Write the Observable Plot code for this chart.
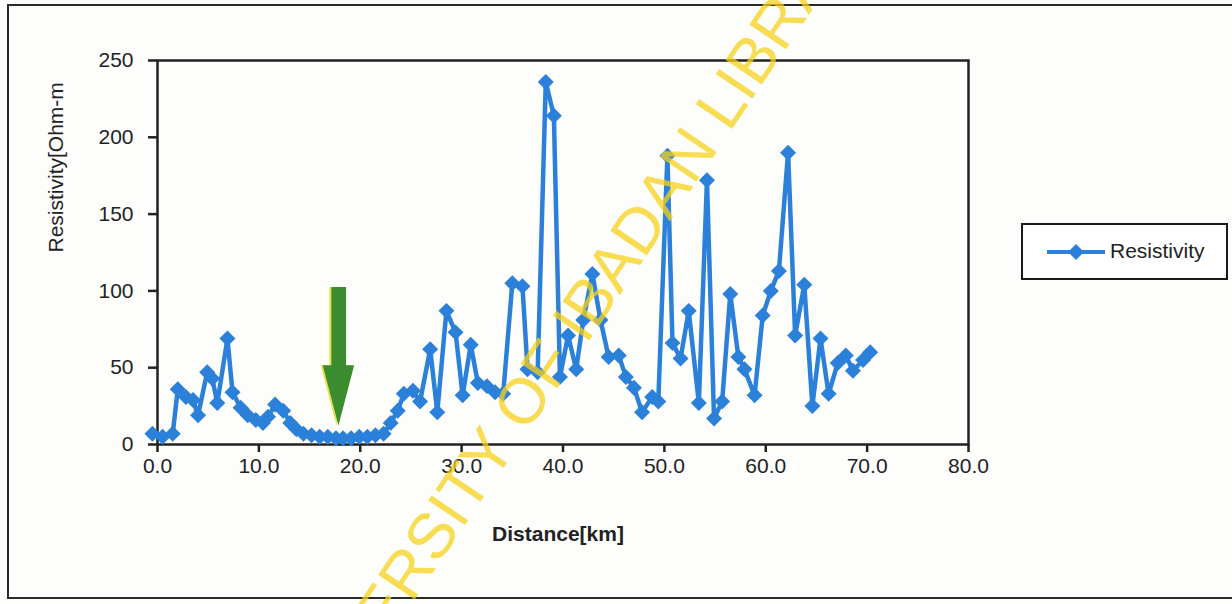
<!DOCTYPE html>
<html>
<head>
<meta charset="utf-8">
<script src="https://cdn.jsdelivr.net/npm/d3@7"></script>
<script src="https://cdn.jsdelivr.net/npm/@observablehq/plot@0.6"></script>
<style>
  html, body { margin: 0; padding: 0; background: #fff; }
  #wrap { position: relative; width: 1232px; height: 604px; overflow: hidden; background: #fdfdfc; }
  #border { position: absolute; left: 7px; top: 4px; width: 1240px; height: 595px; border: 2px solid #2a2a2a; box-sizing: border-box; }
  #legend { position: absolute; left: 1021px; top: 223px; width: 207px; height: 57px; border: 2.5px solid #1a1a1a; box-sizing: border-box; background: #fff;
            font-family: "Liberation Sans", Arial, sans-serif; font-size: 21px; color: #222; }
  #legend svg { position: absolute; left: 22px; top: 16px; }
  #legend span { position: absolute; left: 87px; top: 14px; }
  #wm { position: absolute; left: 0; top: 0; pointer-events: none; }
</style>
</head>
<body>
<div id="wrap">
  <div id="border"></div>
  <div id="chart"></div>
  <div id="legend"><svg width="62" height="22"><line x1="2" y1="11" x2="60" y2="11" stroke="#2b80d9" stroke-width="4"/><path d="M31,3 L39,11 L31,19 L23,11 Z" fill="#2b80d9"/></svg><span>Resistivity</span></div>
</div>
<script>
// Distance along profile (km) and apparent resistivity (Ohm-m)
const distance = [-0.5,0.5,1.5,2.0,2.8,3.5,4.0,4.9,5.4,5.9,6.9,7.4,8.2,8.9,9.7,10.4,10.9,11.6,12.4,13.1,13.7,14.4,15.2,16.0,16.8,17.6,18.3,19.1,19.9,20.7,21.5,22.3,23.0,23.7,24.3,25.2,25.9,26.9,27.6,28.5,29.4,30.1,30.9,31.6,32.5,33.3,34.1,35.0,36.0,36.5,37.5,38.3,39.1,39.7,40.5,41.3,42.0,42.9,43.7,44.5,45.5,46.2,47.0,47.8,48.8,49.4,50.3,50.8,51.6,52.4,53.4,54.2,54.9,55.7,56.5,57.3,57.9,58.9,59.7,60.5,61.3,62.2,62.9,63.8,64.6,65.4,66.2,67.1,67.9,68.6,69.6,70.3];
const resistivity = [7,5,7,36,31,29,19,47,43,27,69,34,24,19,16,14,18,26,22,14,10,7,6,5,5,4,4,4,5,5,6,7,14,22,33,35,28,62,21,87,73,32,65,40,38,34,33,105,103,49,47,236,214,44,71,49,81,111,81,57,58,44,37,21,31,28,188,66,56,87,27,172,17,28,98,57,49,32,84,100,113,190,71,104,25,69,33,53,58,48,55,60];

// Annotation arrow outline (km, Ohm-m)
const arrowX = [17.15,18.6,18.6,19.4,17.85,16.3,17.15];
const arrowY = [102.5,102.5,51.6,51.6,12.4,51.6,51.6];

const xTicks = [0,10,20,30,40,50,60,70,80];
const yTicks = [0,50,100,150,200,250];
const seriesName = "Resistivity";
const xTitle = "Distance[km]";
const yTitle = "Resistivity[Ohm-m";
const watermark = "UNIVERSITY OF IBADAN LIBRARY";

const data = distance.map((d, i) => ({distance: d, resistivity: resistivity[i]}));
const arrow = arrowX.map((d, i) => ({x: d, y: arrowY[i]}));

const blue = "#2b80d9";
const fs = 21;

const chart = Plot.plot({
  width: 1232,
  height: 604,
  marginLeft: 157,
  marginRight: 264,
  marginTop: 60,
  marginBottom: 160,
  style: {fontFamily: "'Liberation Sans', Arial, sans-serif", fontSize: fs + "px", color: "#222", background: "transparent", overflow: "visible"},
  x: {domain: [0, 80]},
  y: {domain: [0, 250]},
  marks: [
    Plot.axisY({ticks: yTicks, tickSize: 9, tickPadding: 15, label: null, strokeWidth: 2.5, stroke: "#222", fontSize: fs}),
    Plot.axisX({ticks: xTicks, tickSize: 8, tickPadding: 6, tickFormat: d => d.toFixed(1), label: null, strokeWidth: 2.5, stroke: "#222", fontSize: fs}),
    Plot.frame({stroke: "#222", strokeWidth: 2.5}),
    Plot.line(data, {x: "distance", y: "resistivity", stroke: blue, strokeWidth: 4.5, strokeLinejoin: "round"}),
    Plot.dot(data, {x: "distance", y: "resistivity", symbol: "diamond2", r: 7.2, fill: blue, stroke: "none"}),
    Plot.line(arrow, {x: "x", y: "y", fill: "#e6e24a", stroke: "none", dx: -2}),
    Plot.line(arrow, {x: "x", y: "y", fill: "#3c8c30", stroke: "none"}),
    Plot.text([xTitle], {frameAnchor: "bottom", dy: 96, dx: -5, fontWeight: "bold", fontSize: fs, fill: "#222"}),
    Plot.text([yTitle], {frameAnchor: "left", dx: -101, rotate: -90, fontSize: fs, fill: "#222"})
  ]
});
document.getElementById("chart").appendChild(chart);

// watermark overlay
const ns = "http://www.w3.org/2000/svg";
const wm = document.createElementNS(ns, "svg");
wm.setAttribute("id", "wm");
wm.setAttribute("width", 1232);
wm.setAttribute("height", 604);
const t = document.createElementNS(ns, "text");
t.setAttribute("transform", "translate(578,327) rotate(-56)");
t.setAttribute("text-anchor", "middle");
t.setAttribute("dominant-baseline", "middle");
t.setAttribute("font-family", "'Liberation Sans', Arial, sans-serif");
t.setAttribute("font-size", "64");
t.setAttribute("fill", "#f6d21a");
t.setAttribute("fill-opacity", "0.75");
t.textContent = watermark;
wm.appendChild(t);
document.getElementById("wrap").appendChild(wm);
</script>
</body>
</html>
